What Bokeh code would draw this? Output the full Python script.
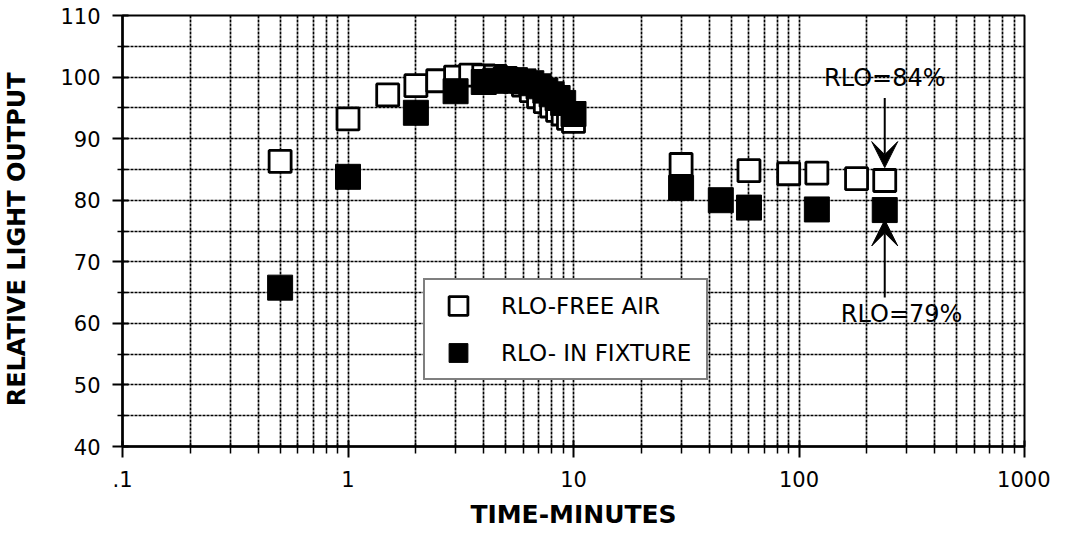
from bokeh.plotting import figure
from bokeh.models import (FixedTicker, CustomJSTickFormatter, Legend, LegendItem,
                          Arrow, VeeHead, Label)
from bokeh.embed import file_html
from bokeh.resources import INLINE

# ---- data ----
free_x = [0.5, 1, 1.5, 2, 2.5, 3, 3.5, 4, 4.5, 5, 5.5, 6, 6.5, 7, 7.5, 8, 8.5, 9, 9.5, 10,
          30, 60, 90, 120, 180, 240]
free_y = [86.3, 93.2, 97.1, 98.6, 99.4, 100.0, 100.3, 100.2, 100.1, 99.8, 99.3, 98.7, 97.8,
          96.8, 96.0, 95.3, 94.6, 94.0, 93.3, 92.8,
          85.8, 84.8, 84.3, 84.4, 83.5, 83.2]

fix_x = [0.5, 1, 2, 3, 4, 4.5, 5, 5.5, 6, 6.5, 7, 7.5, 8, 8.5, 9, 10,
         30, 45, 60, 120, 240]
fix_y = [65.8, 83.8, 94.2, 97.7, 99.2, 99.4, 99.5, 99.5, 99.3, 99.0, 98.5, 97.8, 97.2, 96.6,
         95.8, 94.0,
         82.0, 80.0, 78.8, 78.5, 78.4]

x_major = [0.1, 1, 10, 100, 1000]
x_minor = [m * d for d in (0.1, 1, 10, 100) for m in range(2, 10)]
y_major = [40, 50, 60, 70, 80, 90, 100, 110]
y_minor = [45, 55, 65, 75, 85, 95, 105]

series_labels = ["RLO-FREE AIR", "RLO- IN FIXTURE"]
note_top = "RLO=84%"
note_bottom = "RLO=79%"

FONT = "DejaVu Sans"

p = figure(width=1050, height=534, x_axis_type="log",
           x_range=(0.1, 1000), y_range=(40, 110),
           output_backend="svg", toolbar_location=None,
           min_border_left=122, min_border_right=26, min_border_top=15, min_border_bottom=88)

p.background_fill_color = "white"
p.border_fill_color = "white"
p.outline_line_color = "black"
p.outline_line_width = 2

# axes
p.xaxis.ticker = FixedTicker(ticks=x_major, minor_ticks=x_minor)
p.xaxis.formatter = CustomJSTickFormatter(code="return tick < 1 ? '.1' : tick.toFixed(0)")
p.yaxis.ticker = FixedTicker(ticks=y_major, minor_ticks=y_minor)

for ax in (p.xaxis[0], p.yaxis[0]):
    ax.axis_line_color = "black"
    ax.axis_line_width = 2.5
    ax.major_tick_line_color = "black"
    ax.major_tick_line_width = 2
    ax.minor_tick_line_color = "black"
    ax.minor_tick_line_width = 1.5
    ax.major_label_text_font = FONT
    ax.major_label_text_font_size = "21px"
    ax.major_label_text_color = "black"
    ax.axis_label_text_font = FONT
    ax.axis_label_text_font_style = "bold"
    ax.axis_label_text_color = "black"

p.xaxis.major_tick_in = 6
p.xaxis.major_tick_out = 11
p.xaxis.minor_tick_in = 4
p.xaxis.minor_tick_out = 7
p.xaxis.major_label_standoff = 13
p.xaxis.axis_label = "TIME-MINUTES"
p.xaxis.axis_label_text_font_size = "25px"
p.xaxis.axis_label_standoff = 10

p.yaxis.major_tick_in = 6
p.yaxis.major_tick_out = 10
p.yaxis.minor_tick_in = 5
p.yaxis.minor_tick_out = 5
p.yaxis.major_label_standoff = 12
p.yaxis.axis_label = "RELATIVE  LIGHT  OUTPUT"
p.yaxis.axis_label_text_font_size = "24px"
p.yaxis.axis_label_standoff = 26

# grid
for g in (p.xgrid[0], p.ygrid[0]):
    g.grid_line_color = "black"
    g.grid_line_width = 1.7
    g.grid_line_dash = "3 1"
    g.grid_line_alpha = 1.0
    g.minor_grid_line_color = "black"
    g.minor_grid_line_width = 1.7
    g.minor_grid_line_dash = "3 1"
    g.minor_grid_line_alpha = 1.0

# data
r_free = p.scatter(free_x, free_y, marker="square", size=22,
                   fill_color="white", line_color="black", line_width=2.8)
r_fix = p.scatter(fix_x, fix_y, marker="square", size=25,
                  fill_color="black", line_color="black", line_width=1)

# legend
legend = Legend(items=[LegendItem(label=series_labels[0], renderers=[r_free]),
                       LegendItem(label=series_labels[1], renderers=[r_fix])],
                location=(301, 66), orientation="vertical",
                glyph_width=62, glyph_height=47, spacing=0, padding=2,
                label_standoff=12, label_width=203,
                label_text_font=FONT, label_text_font_size="23px", label_text_color="black",
                border_line_color="black", border_line_width=2.5,
                background_fill_color="white", background_fill_alpha=1.0)
p.add_layout(legend, "center")

# annotations
ann_x = 240
top_arrow = (96.6, 85.3)
bottom_arrow = (64.2, 76.8)
p.add_layout(Arrow(end=VeeHead(size=26, fill_color="black", line_color="black"),
                   x_start=ann_x, y_start=top_arrow[0], x_end=ann_x, y_end=top_arrow[1],
                   line_color="black", line_width=2))
p.add_layout(Arrow(end=VeeHead(size=26, fill_color="black", line_color="black"),
                   x_start=ann_x, y_start=bottom_arrow[0], x_end=ann_x, y_end=bottom_arrow[1],
                   line_color="black", line_width=2))
p.add_layout(Label(x=240, y=99.8, text=note_top, text_align="center", text_baseline="middle",
                   text_font=FONT, text_font_size="24px", text_color="black"))
p.add_layout(Label(x=285, y=61.6, text=note_bottom, text_align="center", text_baseline="middle",
                   text_font=FONT, text_font_size="24px", text_color="black"))

open("out.html", "w").write(file_html(p, INLINE))
